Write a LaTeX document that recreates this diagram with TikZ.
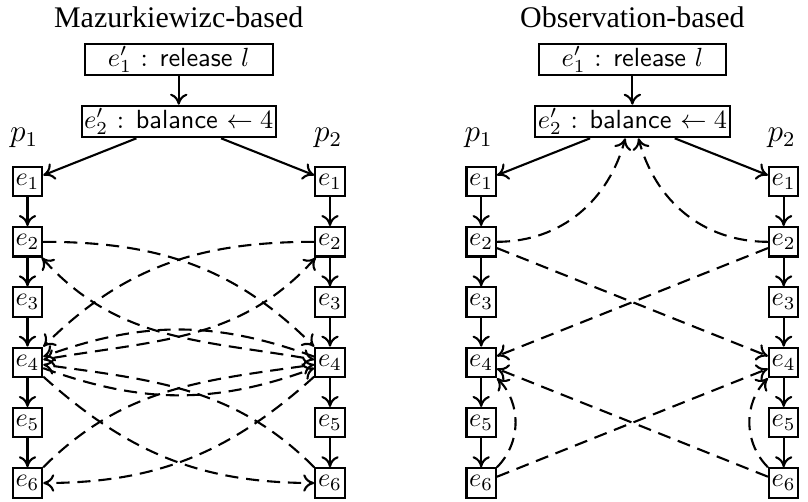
\documentclass[tikz,border=0pt]{standalone}
\usepackage{fontspec}
\usetikzlibrary{arrows.meta}
\newfontfamily\titlefont{Liberation Serif}
\begin{document}
\begin{tikzpicture}[x=0.381pt,y=-0.381pt,
  ev/.style={draw, thick, minimum size=11.2pt, inner sep=0pt},
  gev/.style={draw, thick, minimum width=71.5pt, minimum height=11.2pt, inner sep=1pt},
  ttl/.style={font=\fontsize{11.4}{13}\titlefont, anchor=base},
  plab/.style={anchor=base, inner sep=0pt, font=\fontsize{12}{14}\selectfont},
  tip/.style={-{To[length=4.2pt,width=6.6pt]}},
  po/.style={thick, tip},
  cf/.style={thick, dash pattern=on 5pt off 3pt, tip},
  both/.style={{To[length=4.2pt,width=6.6pt]}-{To[length=4.2pt,width=6.6pt]}}]
\useasboundingbox (0,0) rectangle (808,501);

% ---------------- left panel ----------------
\node[ttl] (Lt) at (178.75,27) {Mazurkiewizc-based};
\node[gev] (L1p) at (178.75,59.5) {$e'_1$ : \textsf{release} $l$};
\node[gev] (L2p) at (178.75,121.5) {$e'_2$ : \textsf{balance} $\leftarrow 4$};
\node[plab] (Lp1) at (24,141.5) {$p_1$};
\node[plab] (Lp2) at (328,141.5) {$p_2$};
\node[ev] (La1) at (27.5,181.5) {$e_1$};
\node[ev] (La2) at (27.5,241.8) {$e_2$};
\node[ev] (La3) at (27.5,302.1) {$e_3$};
\node[ev] (La4) at (27.5,362.4) {$e_4$};
\node[ev] (La5) at (27.5,422.7) {$e_5$};
\node[ev] (La6) at (27.5,483) {$e_6$};
\node[ev] (Lb1) at (330,181.5) {$e_1$};
\node[ev] (Lb2) at (330,241.8) {$e_2$};
\node[ev] (Lb3) at (330,302.1) {$e_3$};
\node[ev] (Lb4) at (330,362.4) {$e_4$};
\node[ev] (Lb5) at (330,422.7) {$e_5$};
\node[ev] (Lb6) at (330,483) {$e_6$};

\draw[po] (L1p) -- (L2p);
\draw[po] (L2p) -- (La1);
\draw[po] (L2p) -- (Lb1);
\foreach \i/\j in {1/2,2/3,3/4,4/5,5/6} {
  \draw[po] (La\i) -- (La\j);
  \draw[po] (Lb\i) -- (Lb\j);
}
\draw[cf] (La2) to[out=0,in=135] (Lb4);
\draw[cf] (Lb2) to[out=180,in=45] (La4);
\draw[cf,both] (La2) to[out=-48,in=170] (Lb4);
\draw[cf,both] (Lb2) to[out=228,in=10] (La4);
\draw[cf] (Lb4) to[out=160,in=20] (La4);
\draw[cf] (La4) to[out=-20,in=200] (Lb4);
\draw[cf] (La6) to[out=45,in=188] (Lb4);
\draw[cf] (Lb6) to[out=135,in=-8] (La4);
\draw[cf] (La4) to[out=-42,in=180] (Lb6);
\draw[cf] (Lb4) to[out=222,in=0] (La6);

% ---------------- right panel ----------------
\node[ttl] (Rt) at (632.4,27) {Observation-based};
\node[gev] (R1p) at (632.4,59.5) {$e'_1$ : \textsf{release} $l$};
\node[gev] (R2p) at (632.4,121.5) {$e'_2$ : \textsf{balance} $\leftarrow 4$};
\node[plab] (Rp1) at (478.5,141.5) {$p_1$};
\node[plab] (Rp2) at (781.5,141.5) {$p_2$};
\node[ev] (Ra1) at (481.2,181.5) {$e_1$};
\node[ev] (Ra2) at (481.2,241.8) {$e_2$};
\node[ev] (Ra3) at (481.2,302.1) {$e_3$};
\node[ev] (Ra4) at (481.2,362.4) {$e_4$};
\node[ev] (Ra5) at (481.2,422.7) {$e_5$};
\node[ev] (Ra6) at (481.2,483) {$e_6$};
\node[ev] (Rb1) at (783.7,181.5) {$e_1$};
\node[ev] (Rb2) at (783.7,241.8) {$e_2$};
\node[ev] (Rb3) at (783.7,302.1) {$e_3$};
\node[ev] (Rb4) at (783.7,362.4) {$e_4$};
\node[ev] (Rb5) at (783.7,422.7) {$e_5$};
\node[ev] (Rb6) at (783.7,483) {$e_6$};

\draw[po] (R1p) -- (R2p);
\draw[po] (R2p) -- (Ra1);
\draw[po] (R2p) -- (Rb1);
\foreach \i/\j in {1/2,2/3,3/4,4/5,5/6} {
  \draw[po] (Ra\i) -- (Ra\j);
  \draw[po] (Rb\i) -- (Rb\j);
}
\draw[cf] (Ra2) to[out=0,in=-105] ([xshift=-2.7pt]R2p.south);
\draw[cf] (Rb2) to[out=180,in=-75] ([xshift=2.3pt]R2p.south);
\draw[cf] (Ra2) -- (Rb4);
\draw[cf] (Rb2) -- (Ra4);
\draw[cf] (Rb6) -- (Ra4);
\draw[cf] (Ra6) -- (Rb4);
\draw[cf] (Ra6) to[out=45,in=-45] (Ra4);
\draw[cf] (Rb6) to[out=135,in=225] (Rb4);
\end{tikzpicture}
\end{document}
